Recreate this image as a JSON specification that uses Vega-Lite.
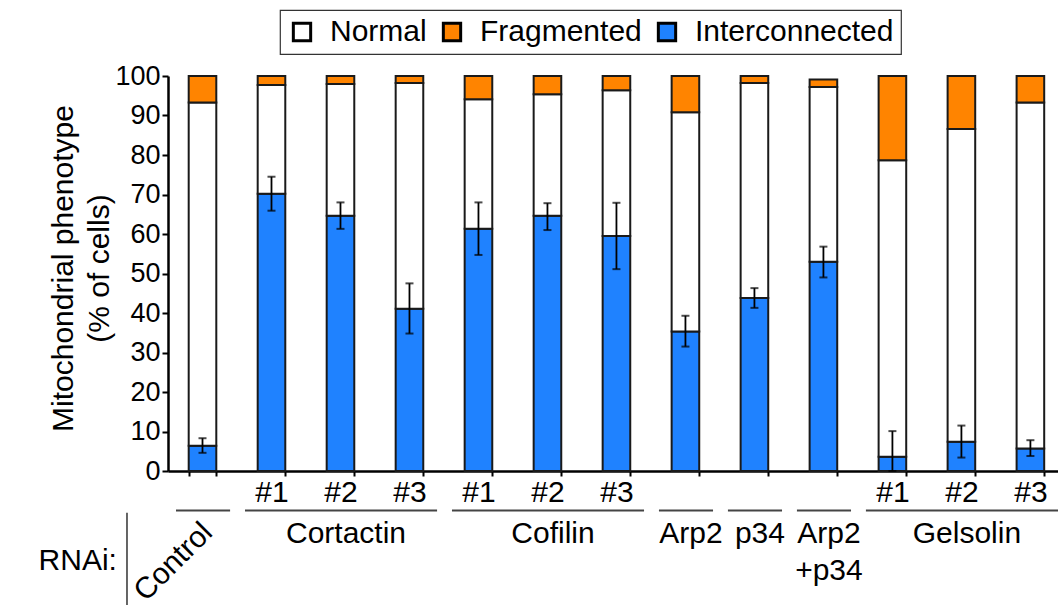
{
  "$schema": "https://vega.github.io/schema/vega-lite/v6.json",
  "width": 890,
  "height": 395,
  "autosize": {"type": "none"},
  "padding": {"left": 168, "top": 76, "right": 0, "bottom": 134},
  "config": {
    "font": "Liberation Sans",
    "view": {"stroke": null},
    "axisY": {
      "labelOverlap": false,
      "tickCount": 11,
      "grid": false,
      "tickSize": 6,
      "tickWidth": 2,
      "tickColor": "#000000",
      "domainWidth": 2.5,
      "domainColor": "#000000",
      "labelFontSize": 27,
      "labelColor": "#000000",
      "labelPadding": 2,
      "titleFontSize": 30,
      "titleFontWeight": "normal",
      "titleColor": "#000000",
      "titleX": -96,
      "titleY": 192,
      "titleBaseline": "alphabetic",
      "titleLineHeight": 36,
      "titleAlign": "center"
    },
    "legend": {
      "orient": "none",
      "legendX": 112,
      "legendY": -66,
      "direction": "horizontal",
      "strokeColor": "#333333",
      "strokeWidth": 1.2,
      "padding": 7,
      "labelFontSize": 30,
      "labelLimit": 0,
      "labelColor": "#000000",
      "labelFont": "Liberation Sans",
      "symbolType": "square",
      "symbolSize": 300,
      "symbolStrokeWidth": 3,
      "symbolStrokeColor": "#000000",
      "columnSpacing": 18,
      "labelOffset": 13
    }
  },
  "datasets": {
    "bars": [
      {"cat": "Control", "phenotype": "Interconnected", "pct": 6.4, "rank": 1},
      {"cat": "Control", "phenotype": "Normal", "pct": 86.9, "rank": 2},
      {"cat": "Control", "phenotype": "Fragmented", "pct": 6.7, "rank": 3},
      {"cat": "Cortactin #1", "phenotype": "Interconnected", "pct": 70.2, "rank": 1},
      {"cat": "Cortactin #1", "phenotype": "Normal", "pct": 27.5, "rank": 2},
      {"cat": "Cortactin #1", "phenotype": "Fragmented", "pct": 2.3, "rank": 3},
      {"cat": "Cortactin #2", "phenotype": "Interconnected", "pct": 64.6, "rank": 1},
      {"cat": "Cortactin #2", "phenotype": "Normal", "pct": 33.4, "rank": 2},
      {"cat": "Cortactin #2", "phenotype": "Fragmented", "pct": 2.0, "rank": 3},
      {"cat": "Cortactin #3", "phenotype": "Interconnected", "pct": 41.1, "rank": 1},
      {"cat": "Cortactin #3", "phenotype": "Normal", "pct": 57.1, "rank": 2},
      {"cat": "Cortactin #3", "phenotype": "Fragmented", "pct": 1.8, "rank": 3},
      {"cat": "Cofilin #1", "phenotype": "Interconnected", "pct": 61.3, "rank": 1},
      {"cat": "Cofilin #1", "phenotype": "Normal", "pct": 32.8, "rank": 2},
      {"cat": "Cofilin #1", "phenotype": "Fragmented", "pct": 5.9, "rank": 3},
      {"cat": "Cofilin #2", "phenotype": "Interconnected", "pct": 64.6, "rank": 1},
      {"cat": "Cofilin #2", "phenotype": "Normal", "pct": 30.8, "rank": 2},
      {"cat": "Cofilin #2", "phenotype": "Fragmented", "pct": 4.6, "rank": 3},
      {"cat": "Cofilin #3", "phenotype": "Interconnected", "pct": 59.5, "rank": 1},
      {"cat": "Cofilin #3", "phenotype": "Normal", "pct": 36.9, "rank": 2},
      {"cat": "Cofilin #3", "phenotype": "Fragmented", "pct": 3.6, "rank": 3},
      {"cat": "Arp2", "phenotype": "Interconnected", "pct": 35.3, "rank": 1},
      {"cat": "Arp2", "phenotype": "Normal", "pct": 55.5, "rank": 2},
      {"cat": "Arp2", "phenotype": "Fragmented", "pct": 9.2, "rank": 3},
      {"cat": "p34", "phenotype": "Interconnected", "pct": 43.8, "rank": 1},
      {"cat": "p34", "phenotype": "Normal", "pct": 54.4, "rank": 2},
      {"cat": "p34", "phenotype": "Fragmented", "pct": 1.8, "rank": 3},
      {"cat": "Arp2+p34", "phenotype": "Interconnected", "pct": 53.0, "rank": 1},
      {"cat": "Arp2+p34", "phenotype": "Normal", "pct": 44.2, "rank": 2},
      {"cat": "Arp2+p34", "phenotype": "Fragmented", "pct": 1.9, "rank": 3},
      {"cat": "Gelsolin #1", "phenotype": "Interconnected", "pct": 3.6, "rank": 1},
      {"cat": "Gelsolin #1", "phenotype": "Normal", "pct": 75.1, "rank": 2},
      {"cat": "Gelsolin #1", "phenotype": "Fragmented", "pct": 21.3, "rank": 3},
      {"cat": "Gelsolin #2", "phenotype": "Interconnected", "pct": 7.4, "rank": 1},
      {"cat": "Gelsolin #2", "phenotype": "Normal", "pct": 79.2, "rank": 2},
      {"cat": "Gelsolin #2", "phenotype": "Fragmented", "pct": 13.4, "rank": 3},
      {"cat": "Gelsolin #3", "phenotype": "Interconnected", "pct": 5.7, "rank": 1},
      {"cat": "Gelsolin #3", "phenotype": "Normal", "pct": 87.6, "rank": 2},
      {"cat": "Gelsolin #3", "phenotype": "Fragmented", "pct": 6.7, "rank": 3}
    ],
    "err": [
      {"cat": "Control", "lo": 4.6, "hi": 8.3},
      {"cat": "Cortactin #1", "lo": 65.9, "hi": 74.5},
      {"cat": "Cortactin #2", "lo": 61.3, "hi": 68.0},
      {"cat": "Cortactin #3", "lo": 34.8, "hi": 47.5},
      {"cat": "Cofilin #1", "lo": 54.7, "hi": 68.0},
      {"cat": "Cofilin #2", "lo": 61.0, "hi": 67.8},
      {"cat": "Cofilin #3", "lo": 51.1, "hi": 67.9},
      {"cat": "Arp2", "lo": 31.5, "hi": 39.3},
      {"cat": "p34", "lo": 41.3, "hi": 46.3},
      {"cat": "Arp2+p34", "lo": 49.0, "hi": 56.8},
      {"cat": "Gelsolin #1", "lo": 0, "hi": 10.1},
      {"cat": "Gelsolin #2", "lo": 3.4, "hi": 11.5},
      {"cat": "Gelsolin #3", "lo": 3.8, "hi": 7.8}
    ],
    "groups": [
      {"name": "Control", "first": "Control", "last": "Control", "mid": "Control"},
      {"name": "Cortactin", "first": "Cortactin #1", "last": "Cortactin #3", "mid": "Cortactin #2"},
      {"name": "Cofilin", "first": "Cofilin #1", "last": "Cofilin #3", "mid": "Cofilin #2"},
      {"name": "Arp2", "first": "Arp2", "last": "Arp2", "mid": "Arp2"},
      {"name": "p34", "first": "p34", "last": "p34", "mid": "p34"},
      {"name": "Arp2\n+p34", "first": "Arp2+p34", "last": "Arp2+p34", "mid": "Arp2+p34"},
      {"name": "Gelsolin", "first": "Gelsolin #1", "last": "Gelsolin #3", "mid": "Gelsolin #2"}
    ],
    "side": [
      {"label": "RNAi:", "anchor": "Control"}
    ]
  },
  "layer": [
    {
      "data": {"name": "bars"},
      "mark": {"type": "bar", "stroke": "#1a1a1a", "strokeWidth": 2},
      "encoding": {
        "x": {
          "field": "cat", "type": "nominal", "sort": null,
          "scale": {
            "domain": ["Control", "Cortactin #1", "Cortactin #2", "Cortactin #3", "Cofilin #1", "Cofilin #2", "Cofilin #3", "Arp2", "p34", "Arp2+p34", "Gelsolin #1", "Gelsolin #2", "Gelsolin #3"],
            "paddingInner": 0.6, "paddingOuter": 0.25, "align": 0.6
          },
          "axis": {
            "title": null,
            "labelAngle": 0,
            "labelExpr": "indexof(datum.label, '#') >= 0 ? substring(datum.label, indexof(datum.label, '#')) : ''",
            "labelFontSize": 30,
            "labelColor": "#000000",
            "labelBaseline": "alphabetic",
            "labelPadding": 25,
            "tickBand": "extent",
            "tickSize": 5,
            "tickWidth": 2,
            "tickColor": "#000000",
            "domainWidth": 2.5,
            "domainColor": "#000000"
          }
        },
        "y": {
          "field": "pct", "type": "quantitative",
          "scale": {"domain": [0, 100], "nice": false},
          "axis": {"values": [0, 10, 20, 30, 40, 50, 60, 70, 80, 90, 100], "tickCount": 11, "labelOverlap": false, "title": ["Mitochondrial phenotype", "(% of cells)"]}
        },
        "color": {
          "field": "phenotype", "type": "nominal",
          "scale": {"domain": ["Normal", "Fragmented", "Interconnected"], "range": ["#ffffff", "#ff8400", "#1f82ff"]},
          "legend": {"title": null}
        },
        "order": {"field": "rank", "type": "quantitative"}
      }
    },
    {
      "data": {"name": "err"},
      "mark": {"type": "rule", "color": "#000000", "strokeWidth": 1.8},
      "encoding": {
        "x": {"field": "cat", "type": "nominal"},
        "y": {"field": "lo", "type": "quantitative"},
        "y2": {"field": "hi"}
      }
    },
    {
      "data": {"name": "err"},
      "mark": {"type": "tick", "color": "#000000", "size": 8, "thickness": 2},
      "encoding": {
        "x": {"field": "cat", "type": "nominal"},
        "y": {"field": "lo", "type": "quantitative"}
      }
    },
    {
      "data": {"name": "err"},
      "mark": {"type": "tick", "color": "#000000", "size": 8, "thickness": 2},
      "encoding": {
        "x": {"field": "cat", "type": "nominal"},
        "y": {"field": "hi", "type": "quantitative"}
      }
    },
    {
      "data": {"name": "groups"},
      "mark": {"type": "rule", "color": "#444444", "strokeWidth": 2},
      "encoding": {
        "x": {"field": "first", "type": "nominal", "bandPosition": -0.46},
        "x2": {"field": "last", "bandPosition": 1.5},
        "y": {"datum": -10, "type": "quantitative"}
      }
    },
    {
      "data": {"name": "groups"},
      "transform": [{"filter": "datum.name != 'Control'"}],
      "mark": {"type": "text", "fontSize": 30, "align": "center", "baseline": "alphabetic", "lineBreak": "\n", "lineHeight": 37, "color": "#000000"},
      "encoding": {
        "x": {"field": "mid", "type": "nominal", "bandPosition": 0.7},
        "y": {"datum": -18.2, "type": "quantitative"},
        "text": {"field": "name"}
      }
    },
    {
      "data": {"name": "groups"},
      "transform": [{"filter": "datum.name == 'Control'"}],
      "mark": {"type": "text", "fontSize": 30, "align": "right", "baseline": "alphabetic", "angle": 315, "color": "#000000"},
      "encoding": {
        "x": {"field": "mid", "type": "nominal", "bandPosition": 0.92},
        "y": {"datum": -16, "type": "quantitative"},
        "text": {"field": "name"}
      }
    },
    {
      "data": {"name": "side"},
      "mark": {"type": "text", "fontSize": 30, "align": "right", "baseline": "alphabetic", "color": "#000000"},
      "encoding": {
        "x": {"field": "anchor", "type": "nominal", "bandPosition": -2.6},
        "y": {"datum": -25, "type": "quantitative"},
        "text": {"field": "label"}
      }
    },
    {
      "data": {"name": "side"},
      "mark": {"type": "rule", "color": "#333333", "strokeWidth": 1.5},
      "encoding": {
        "x": {"field": "anchor", "type": "nominal", "bandPosition": -2.236},
        "y": {"datum": -10.6, "type": "quantitative"},
        "y2": {"datum": -34}
      }
    }
  ]
}
